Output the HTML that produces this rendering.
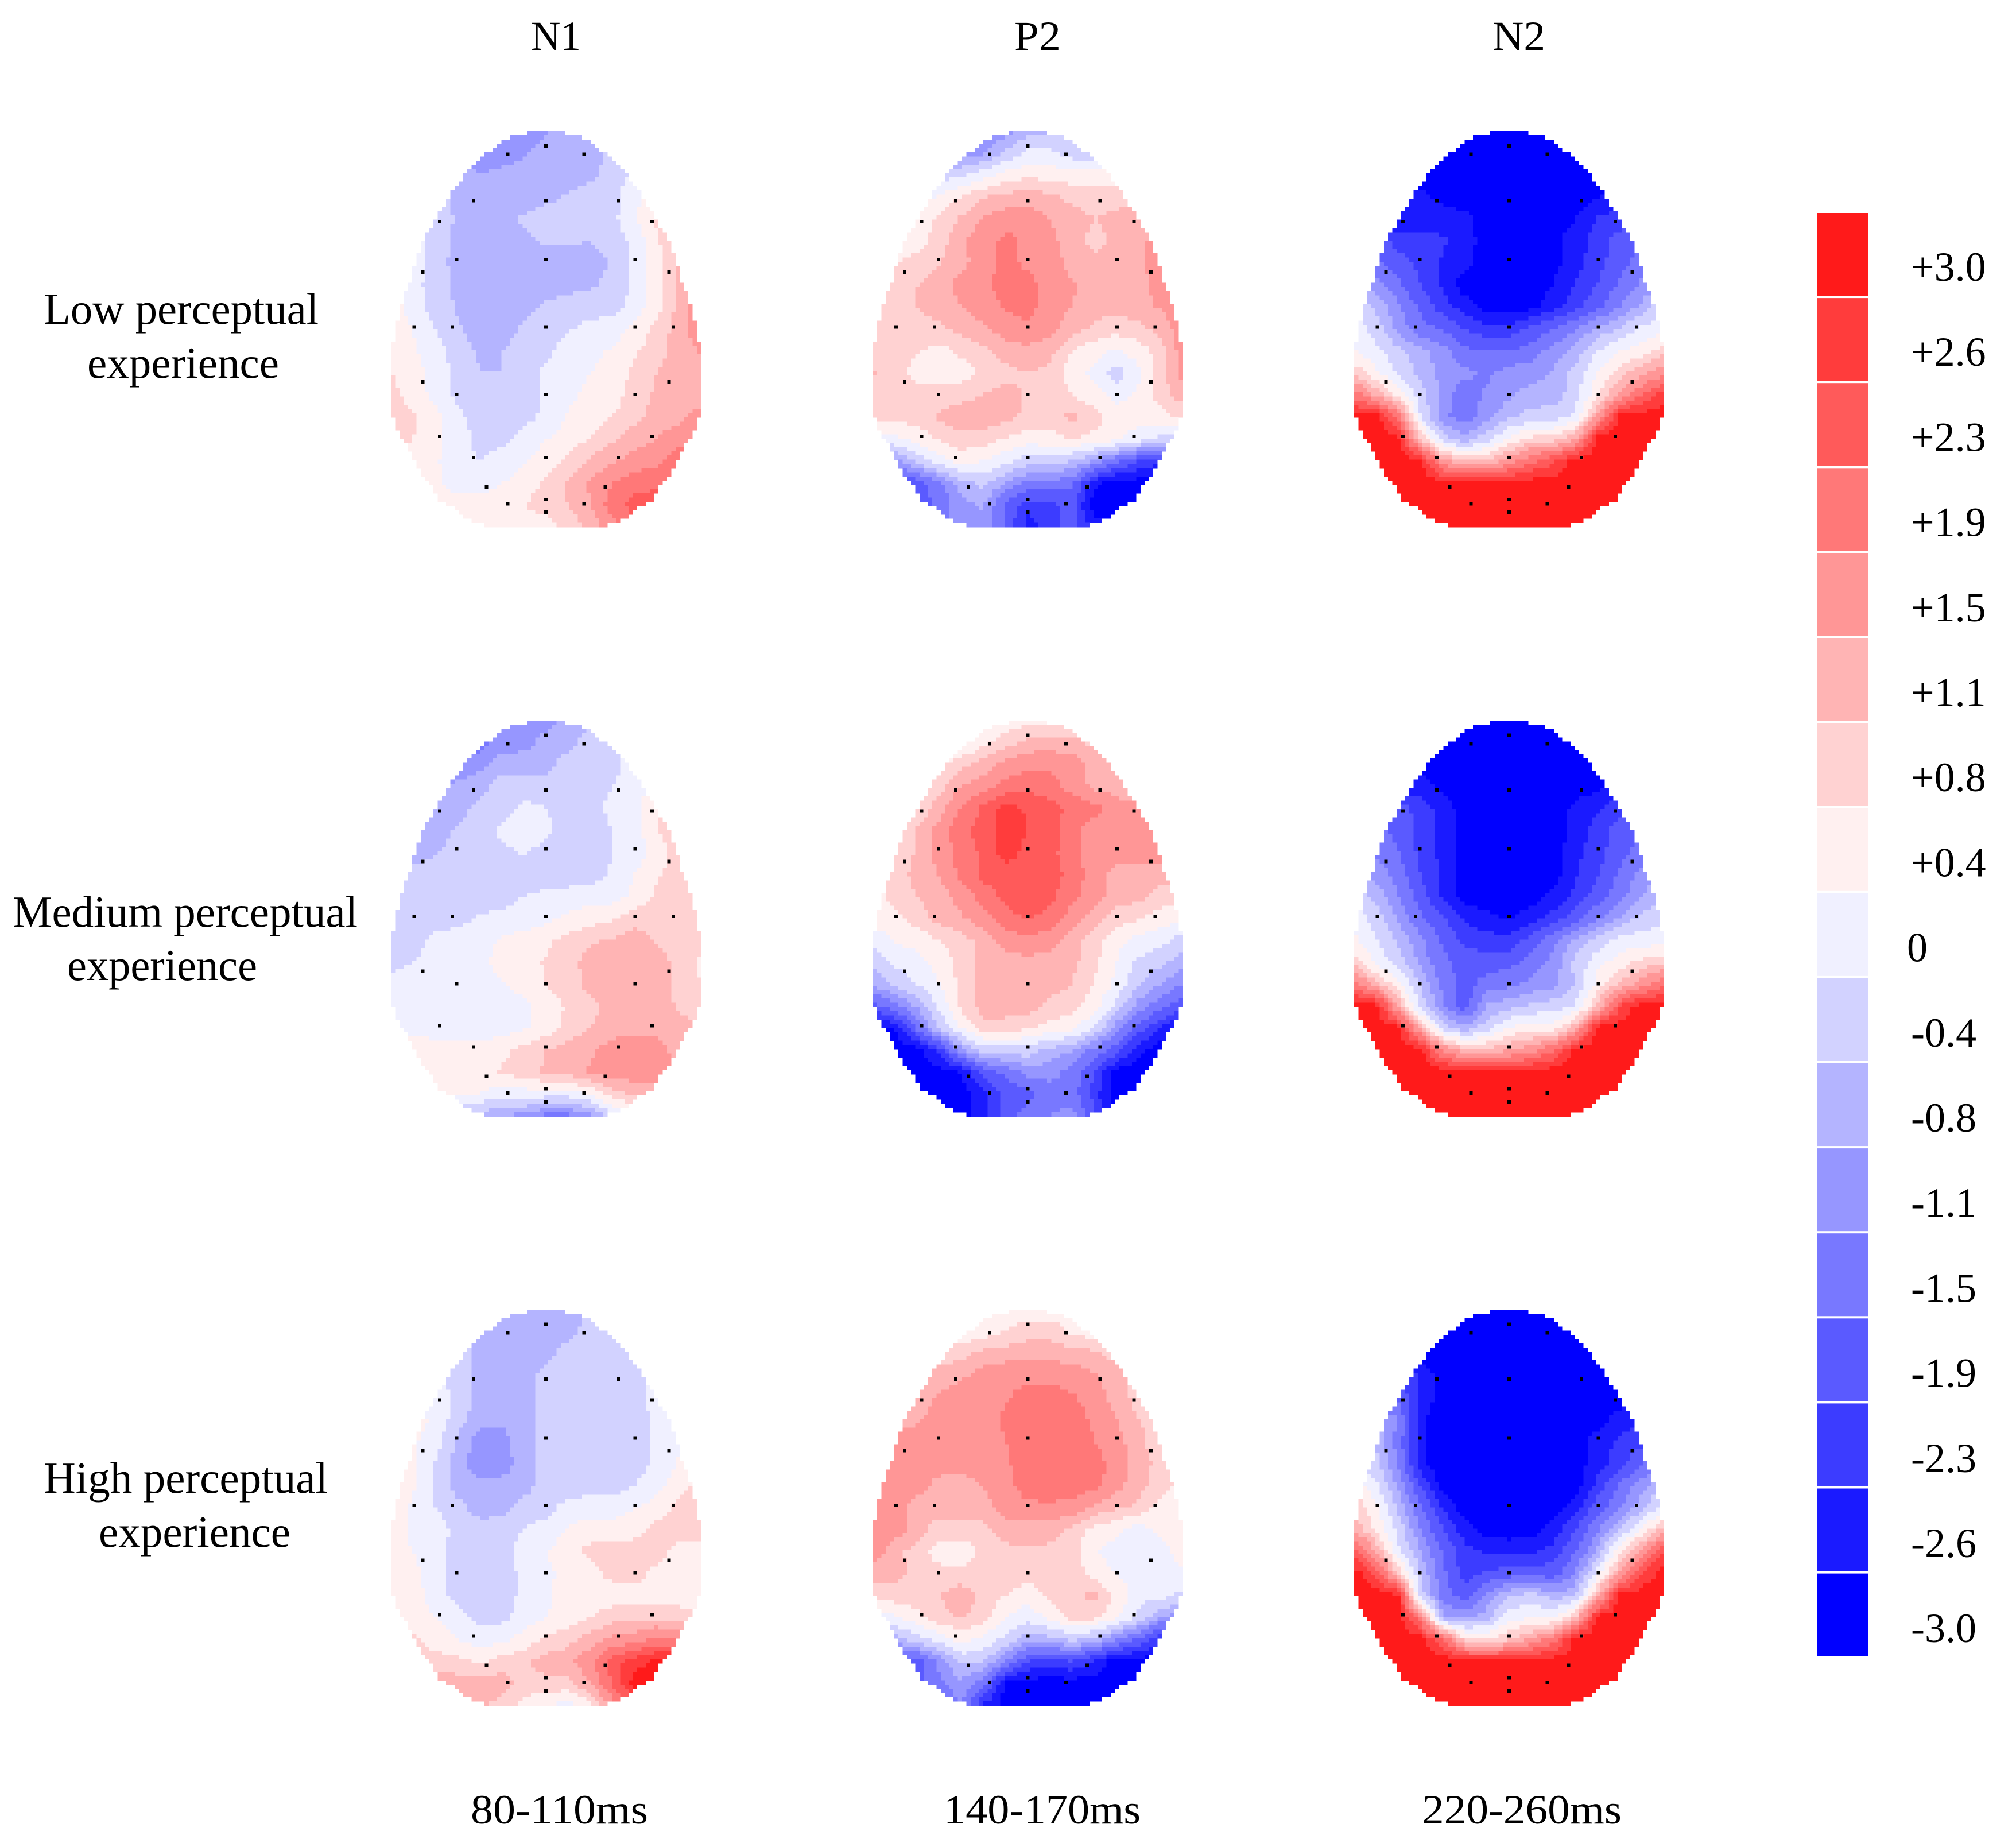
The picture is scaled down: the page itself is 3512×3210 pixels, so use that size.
<!DOCTYPE html>
<html lang="en">
<head>
<meta charset="utf-8">
<title>ERP topographic maps by perceptual experience</title>
<style>
html,body{margin:0;padding:0;background:#fff;}
svg{display:block;}
text{font-family:"Liberation Serif",serif;fill:#000;}
</style>
</head>
<body>
<svg id="chart" xmlns="http://www.w3.org/2000/svg" width="3512" height="3210" viewBox="0 0 3512 3210">
  <rect x="0" y="0" width="3512" height="3210" fill="#ffffff"/>
  <text x="925" y="87" font-size="72" textLength="87" lengthAdjust="spacingAndGlyphs">N1</text>
  <text x="1767" y="87" font-size="72" textLength="81" lengthAdjust="spacingAndGlyphs">P2</text>
  <text x="2600" y="87" font-size="72" textLength="92" lengthAdjust="spacingAndGlyphs">N2</text>
  <text x="76" y="564" font-size="77" textLength="479" lengthAdjust="spacingAndGlyphs">Low perceptual</text>
  <text x="152" y="658" font-size="77" textLength="334" lengthAdjust="spacingAndGlyphs">experience</text>
  <text x="22" y="1614" font-size="77" textLength="601" lengthAdjust="spacingAndGlyphs">Medium perceptual</text>
  <text x="117" y="1707" font-size="77" textLength="331" lengthAdjust="spacingAndGlyphs">experience</text>
  <text x="76" y="2600" font-size="77" textLength="495" lengthAdjust="spacingAndGlyphs">High perceptual</text>
  <text x="172" y="2694" font-size="77" textLength="334" lengthAdjust="spacingAndGlyphs">experience</text>
  <text x="820" y="3176" font-size="72" textLength="309" lengthAdjust="spacingAndGlyphs">80-110ms</text>
  <text x="1644" y="3176" font-size="72" textLength="343" lengthAdjust="spacingAndGlyphs">140-170ms</text>
  <text x="2477" y="3176" font-size="72" textLength="348" lengthAdjust="spacingAndGlyphs">220-260ms</text>
  <g id="maps"></g>
  <g id="colorbar"></g>
</svg>
<script>
// Colour scale, top to bottom
const bandLabels = ['+3.0','+2.6','+2.3','+1.9','+1.5','+1.1','+0.8','+0.4','0','-0.4','-0.8','-1.1','-1.5','-1.9','-2.3','-2.6','-3.0'];
const bandLevels = [3,2.6,2.3,1.9,1.5,1.1,0.8,0.4,0,-0.4,-0.8,-1.1,-1.5,-1.9,-2.3,-2.6,-3];
const bandColors = ['#ff1a1a','#ff3c3c','#ff5a5a','#ff7878','#ff9696','#ffb4b4','#ffd2d2','#fff0f0','#f0f0ff','#d2d2ff','#b4b4ff','#9696ff','#7878ff','#5a5aff','#3c3cff','#1a1aff','#0000ff'];

// Amplitude (µV): 19 rows front-to-back, 15 columns left-to-right
const mapN1Low = [
[-1.1,-1.1,-1.1,-1.1,-1.1,-1.1,-1.1,-1.0,-.8,-.7,-.6,-.5,-.4,-.4,-.4],
[-1.2,-1.2,-1.2,-1.2,-1.2,-1.1,-1.0,-.8,-.8,-.8,-.5,-.3,-.2,-.1,0],
[-.7,-.7,-.7,-.7,-.95,-.85,-.8,-.8,-.8,-.7,-.4,-.1,.2,.3,.4],
[-.4,-.4,-.4,-.7,-.8,-.8,-.8,-.7,-.55,-.4,-.35,.1,.4,.6,.8],
[-.2,-.2,-.4,-.65,-.8,-.75,-.55,-.4,-.4,-.4,-.3,.1,.7,.9,1],
[0,0,-.4,-.7,-.8,-.8,-.7,-.55,-.55,-.6,-.4,-.1,.5,1.1,1.2],
[.1,.05,-.4,-.75,-.8,-.8,-.8,-.8,-.8,-.8,-.55,-.1,.4,1.1,1.3],
[.2,-.05,-.4,-.7,-.8,-.8,-.8,-.75,-.75,-.65,-.5,-.1,.4,1.1,1.4],
[.5,-.05,-.35,-.65,-.8,-.8,-.7,-.55,-.4,-.4,-.35,-.05,.45,1.1,1.5],
[.5,.2,-.2,-.55,-.8,-.8,-.55,-.4,-.25,-.05,0,.3,.75,1.1,1.55],
[.4,.25,0,-.4,-.65,-.6,-.4,-.3,0,.1,.25,.55,.8,1.1,1.35],
[.6,.35,.05,-.3,-.6,-.6,-.4,-.1,0,.2,.35,.7,.95,1.1,1.2],
[.75,.4,.1,-.3,-.5,-.4,-.4,-.15,.1,.3,.4,.8,1.0,1.1,1.1],
[.8,.7,.3,-.1,-.4,-.4,-.35,-.1,.25,.35,.6,.85,1.1,1.2,1.45],
[.7,.6,.3,.05,-.35,-.3,-.05,.2,.35,.65,.9,1.15,1.3,1.55,1.7],
[.6,.5,.25,0,-.2,-.05,.15,.4,.7,1.0,1.25,1.45,1.6,1.95,2.0],
[.3,.3,.3,0,0,.2,.35,.7,1.0,1.35,1.7,1.95,2.0,2.2,2.2],
[.4,.4,.4,.4,.4,.4,.6,.8,.95,1.3,1.9,2.25,2.3,2.3,2.3],
[.4,.4,.4,.4,.4,.4,.4,.4,.7,1.1,1.5,2,2,2,2]];

const mapP2Low = [
[-1.5,-1.5,-1.5,-1.5,-1.5,-1.4,-1.1,-.8,-.8,-.6,-.5,-.5,-.5,-.5,-.5],
[-1.5,-1.5,-1.4,-1.3,-1.2,-1.0,-.5,-.1,-.1,-.4,-.4,-.4,-.4,-.4,-.4],
[-.8,-.8,-.7,-.5,-.25,.05,.35,.5,.45,.4,.35,.35,.4,.4,.4],
[-.3,-.2,-.1,.3,.65,.95,1.1,1.15,1.05,.85,.8,.8,.9,1,1],
[.1,.2,.35,.7,1.0,1.35,1.5,1.55,1.3,1.1,.95,1.05,1.15,1.3,1.4],
[.2,.3,.45,.75,1.25,1.5,1.85,1.6,1.4,1.1,.85,1.0,1.2,1.5,1.6],
[.5,.6,.75,.95,1.2,1.5,1.85,1.6,1.5,1.15,1.05,1.1,1.2,1.55,1.7],
[.7,.8,.95,1.1,1.45,1.6,1.9,1.85,1.5,1.35,1.1,1.1,1.15,1.5,1.7],
[.7,.75,.95,1.05,1.3,1.5,1.75,1.85,1.5,1.3,1.1,1.1,1.15,1.35,1.6],
[.7,.8,.85,.9,1.05,1.25,1.5,1.6,1.4,1.1,.85,.75,.85,1.05,1.5],
[.7,.7,.65,.45,.7,.85,1.1,1.2,1.05,.6,.35,.15,.4,.8,1.5],
[1.0,.8,.45,.35,.4,.7,.85,.95,.85,.4,.1,-.4,.1,.8,1.45],
[.8,.8,.8,.8,.85,.95,1.1,.9,.8,.6,.35,.05,.3,.8,1.1],
[.7,.7,.8,1.0,1.15,1.15,1.1,.85,.8,1.05,.8,.4,.4,.45,.7],
[-.1,.1,.35,.65,.85,.8,.55,.4,.45,.6,.45,.3,-.05,-.3,-.5],
[-1.6,-1.1,-.45,0,.35,.2,-.1,-.4,-.45,-.6,-1.0,-1.6,-2.1,-2.4,-2.6],
[-2.6,-2.4,-1.9,-1.4,-.75,-.5,-1.0,-1.4,-1.45,-1.6,-2.7,-3,-3,-3,-3],
[-2.4,-2.2,-2,-1.6,-1.05,-.9,-1.8,-2.3,-2.2,-2.0,-3,-3,-3,-3,-3],
[-2,-2,-1.8,-1.5,-1,-1.1,-1.8,-2.6,-2.3,-1.9,-2.6,-3,-3,-3,-3]];

const mapN2Low = [
[-3,-3,-3,-3,-3,-3,-3,-3,-3,-3,-3,-3,-3,-3,-3],
[-3,-3,-3,-3,-3,-3,-3,-3,-3,-3,-3,-3,-3,-3,-3],
[-3,-3,-3,-3,-3,-3,-3,-3,-3,-3,-3,-3,-3,-3,-3],
[-2.7,-2.7,-2.7,-2.7,-2.9,-3,-3,-3,-3,-3,-3,-2.8,-2.6,-2.5,-2.5],
[-2.7,-2.7,-2.7,-2.6,-2.6,-2.7,-3,-3,-3,-3,-2.8,-2.4,-2.3,-2.2,-2.2],
[-1.8,-1.8,-2.3,-2.3,-2.4,-2.6,-3,-3,-3,-2.9,-2.6,-2.3,-1.9,-1.8,-1.8],
[-1.6,-1.6,-1.9,-2.2,-2.5,-2.7,-3,-3,-3,-2.9,-2.6,-2.25,-1.85,-1.5,-1.4],
[-1.0,-1.1,-1.6,-2.1,-2.5,-3,-3,-3,-3,-2.8,-2.4,-2.1,-1.6,-1.2,-1.0],
[-.3,-.7,-1.2,-1.8,-2.3,-2.6,-3,-3,-2.9,-2.6,-2.25,-1.8,-1.3,-.85,-.3],
[0,-.35,-1.1,-1.5,-1.75,-2.1,-2.35,-2.3,-2.0,-1.7,-1.3,-.85,-.55,-.1,.1],
[.2,-.1,-.5,-.85,-1.15,-1.6,-1.7,-1.7,-1.5,-1.15,-.8,-.2,.2,.4,.8],
[.9,.3,-.3,-.7,-1.05,-1.2,-1.4,-1.1,-1.1,-.9,-.45,.25,.8,1.2,1.6],
[2.0,1.2,.5,-.4,-1.1,-1.55,-1.2,-1.0,-.8,-.8,-.35,.5,1.45,2.1,2.7],
[3,3,2.0,-.2,-1.2,-1.55,-1.1,-.7,-.45,-.4,-.1,1.4,3,3,3],
[3,3,2.9,1.0,-.4,-.8,-.35,.3,.75,.8,1.3,3,3,3,3],
[3,3,3,2.9,1.5,.9,1.0,1.5,2.0,2.4,3,3,3,3,3],
[3,3,3,3,3,3,3,3,3,3,3,3,3,3,3],
[3,3,3,3,3,3,3,3,3,3,3,3,3,3,3],
[3,3,3,3,3,3,3,3,3,3,3,3,3,3,3]];

const mapN1Medium = [
[-1.5,-1.5,-1.4,-1.4,-1.3,-1.3,-1.15,-1.05,-.85,-.7,-.5,-.4,-.3,-.2,-.1],
[-1.6,-1.6,-1.6,-1.5,-1.5,-1.1,-1.05,-.85,-.75,-.4,-.35,-.1,0,.1,.2],
[-1.4,-1.4,-1.3,-1.2,-1.05,-.8,-.8,-.75,-.4,-.4,-.35,0,.15,.3,.4],
[-1.2,-1.2,-1.1,-.85,-.75,-.4,-.4,-.4,-.35,-.35,-.2,0,.4,.5,.6],
[-1.1,-1,-.85,-.8,-.45,-.35,-.1,-.2,-.4,-.35,-.1,.05,.55,.7,.8],
[-1,-.9,-.8,-.55,-.4,-.1,0,-.1,-.35,-.4,-.2,0,.6,.9,1],
[-.9,-.8,-.65,-.4,-.4,-.3,-.15,-.35,-.4,-.4,-.2,0,.35,.8,.95],
[-.5,-.4,-.4,-.4,-.4,-.4,-.4,-.4,-.4,-.35,-.15,.2,.55,.8,.9],
[-.5,-.4,-.4,-.4,-.4,-.35,-.2,-.1,-.05,0,0,.3,.65,.8,.9],
[-.45,-.4,-.4,-.35,-.15,-.1,-.05,.1,.3,.45,.55,.8,.85,.85,.85],
[-.45,-.35,-.1,0,.05,.25,.4,.5,.75,.9,1.0,1.15,.9,.8,.8],
[-.35,-.2,-.05,0,.1,.35,.4,.65,.8,1.1,1.1,1.15,1.1,.85,.5],
[0,0,0,0,-.05,.15,.4,.6,.8,1.05,1.15,1.15,1.1,.85,.6],
[.05,0,0,0,0,0,.05,.4,.65,.85,1.1,1.15,1.15,.9,.8],
[.1,.1,.05,0,0,0,.15,.4,.7,.95,1.1,1.15,1.15,1.1,.95],
[.4,.4,.35,.35,.35,.5,.75,.95,1.1,1.25,1.5,1.6,1.5,1.1,1],
[.35,.35,.35,.4,.4,.65,.8,1.0,1.1,1.35,1.5,1.5,1.5,1.5,1.5],
[.3,.3,.3,.3,.2,-.05,0,0,0,.25,.8,1.0,1.1,1.1,1.1],
[-.5,-.5,-.6,-.7,-.8,-1.0,-1.1,-1.45,-1.5,-1.1,-.4,.2,.4,.4,.4]];

const mapP2Medium = [
[-.2,-.1,0,0,.1,.2,.35,.5,.5,.7,.8,.8,.8,.8,.8],
[-.2,-.1,0,0,.1,.5,.8,1.05,1.1,1.05,.85,.8,.8,.8,.8],
[.1,.2,.3,.5,.85,1.1,1.45,1.6,1.6,1.5,1.15,.85,.8,.8,.8],
[.3,.4,.5,.8,1.3,1.5,1.85,2.0,1.85,1.55,1.2,1.1,1.0,.9,.9],
[.4,.5,.6,1.15,1.75,2.2,2.6,2.4,2.3,1.95,1.85,1.5,1.4,1.4,1.4],
[.5,.6,1.0,1.45,2.0,2.25,2.65,2.45,2.3,1.8,1.5,1.5,1.5,1.6,1.6],
[.6,.7,1.0,1.4,1.85,2.2,2.6,2.35,2.25,1.8,1.5,1.45,1.5,1.5,1.5],
[.7,.8,1.05,1.35,1.8,2.2,2.3,2.35,2.3,1.95,1.5,1.15,1.1,1.1,1.1],
[.4,.75,.95,1.1,1.45,1.9,2.2,2.35,2.2,1.8,1.5,1.1,1.05,.8,.7],
[.3,.5,.8,1.05,1.25,1.5,1.95,2.15,1.95,1.5,1.1,.8,.65,.4,.3],
[-.05,.25,.35,.6,.8,1.1,1.45,1.6,1.45,1.1,.8,.35,.05,-.05,-.4],
[-.5,-.1,.05,.35,.75,1.05,1.1,1.15,1.1,1.05,.7,.2,-.3,-.5,-.8],
[-.9,-.5,-.2,.2,.7,1.1,1.15,1.15,1.1,.95,.55,.1,-.6,-.95,-1.3],
[-1.9,-1.4,-.9,-.1,.7,1.1,1.1,1.1,.85,.75,.4,-.35,-1.1,-1.55,-2.0],
[-3,-2.8,-1.6,-.6,.2,.85,.8,.65,.45,.3,-.25,-1.2,-1.9,-2.5,-3],
[-3,-3,-3,-2.3,-1.1,-.45,-.4,-.4,-.75,-.95,-1.45,-1.9,-2.7,-3,-3],
[-3,-3,-3,-3,-2.8,-1.9,-1.6,-1.15,-1.15,-1.45,-2.1,-3,-3,-3,-3],
[-3,-3,-3,-3,-3,-2.6,-2.0,-1.85,-1.5,-1.5,-2.3,-3,-3,-3,-3],
[-3,-3,-3,-3,-3,-2.6,-1.9,-1.5,-1.3,-1.1,-2,-3,-3,-3,-3]];

const mapN2Medium = [
[-3,-3,-3,-3,-3,-3,-3,-3,-3,-3,-3,-3,-3,-3,-3],
[-3,-3,-3,-3,-3,-3,-3,-3,-3,-3,-3,-3,-3,-3,-3],
[-3,-3,-3,-3,-3,-3,-3,-3,-3,-3,-3,-3,-3,-3,-3],
[-3,-3,-3,-2.6,-2.9,-3,-3,-3,-3,-3,-3,-2.9,-2.7,-2.7,-2.7],
[-2,-2,-1.9,-2.25,-2.6,-3,-3,-3,-3,-3,-2.7,-2.5,-2.2,-2.1,-2],
[-1.5,-1.5,-1.85,-2.25,-2.55,-3,-3,-3,-3,-3,-2.65,-2.3,-1.9,-1.8,-1.8],
[-1.4,-1.4,-1.7,-2.2,-2.55,-3,-3,-3,-3,-3,-2.55,-2.25,-1.85,-1.5,-1.5],
[-.9,-1.05,-1.45,-2.1,-2.55,-3,-3,-3,-3,-2.95,-2.5,-2.15,-1.6,-1.15,-.9],
[-.3,-.75,-1.3,-1.9,-2.5,-3,-3,-3,-3,-2.7,-2.35,-1.9,-1.45,-.95,-.6],
[.1,-.4,-1.0,-1.6,-2.05,-2.5,-2.7,-2.85,-2.55,-2.3,-1.9,-1.35,-.9,-.45,-.3],
[.3,-.15,-.7,-1.2,-1.75,-2.2,-2.3,-2.3,-1.95,-1.4,-.85,-.45,-.05,0,0],
[.8,.1,-.35,-1.05,-1.6,-1.9,-1.9,-1.85,-1.5,-1.15,-.5,.1,.4,.75,.9],
[1.95,1.1,.35,-.6,-1.4,-1.9,-1.5,-1.4,-1.2,-1.1,-.55,.35,1.05,1.5,2.0],
[3,3,1.2,-.35,-1.25,-1.9,-.9,-.75,-.5,-.4,-.15,1.0,2.5,3,3],
[3,3,3,1.2,-.35,-.8,-.35,.3,.4,.4,1.2,3,3,3,3],
[3,3,3,3,1.7,1.1,1.1,1.3,1.55,2.1,3,3,3,3,3],
[3,3,3,3,3,3,3,3,3,3,3,3,3,3,3],
[3,3,3,3,3,3,3,3,3,3,3,3,3,3,3],
[3,3,3,3,3,3,3,3,3,3,3,3,3,3,3]];

const mapN1High = [
[-.6,-.6,-.6,-.7,-.7,-.75,-.8,-.8,-.8,-.6,-.4,-.3,-.2,-.1,0],
[-.4,-.5,-.5,-.6,-.7,-.8,-.8,-.8,-.75,-.4,-.4,-.2,-.1,0,.1],
[0,-.1,-.2,-.3,-.75,-.8,-.8,-.75,-.4,-.4,-.4,-.2,-.1,0,.1],
[.1,.05,0,-.4,-.7,-.8,-.8,-.45,-.4,-.4,-.4,-.35,0,.1,.1],
[.2,.15,.05,-.35,-.7,-.8,-.75,-.4,-.4,-.4,-.4,-.35,-.05,.1,.2],
[.4,.4,.1,-.4,-.85,-.9,-.75,-.4,-.4,-.4,-.4,-.4,-.1,0,.1],
[.4,.25,0,-.7,-1.1,-1.05,-.8,-.4,-.4,-.4,-.4,-.4,-.1,.1,.2],
[.4,.3,-.2,-.8,-1.15,-1.1,-.8,-.4,-.4,-.4,-.4,-.4,-.1,.25,.4],
[.45,.25,-.3,-.8,-.85,-.85,-.8,-.4,-.4,-.4,-.4,-.2,.05,.4,.8],
[.4,.15,-.2,-.45,-.8,-.75,-.4,-.35,-.05,0,0,.2,.35,.75,.9],
[.4,.1,.05,-.35,-.4,-.4,-.2,-.05,.25,.4,.4,.4,.75,.8,.85],
[.4,.2,0,-.4,-.4,-.35,-.05,.2,.4,.75,.85,.85,.85,.4,.4],
[.4,.3,0,-.4,-.4,-.4,-.1,.1,.35,.4,.75,.8,.45,.4,.4],
[.4,.35,.05,-.4,-.4,-.4,-.1,.1,.4,.4,.4,.4,.4,.4,.4],
[.8,.4,.2,0,-.35,-.3,-.05,.2,.4,.6,.8,.8,.85,.8,.7],
[.9,.7,.4,.2,0,.1,.35,.7,.85,1.1,1.4,1.5,1.85,1.6,1.6],
[.8,.8,.8,.75,.5,.8,.9,1.1,1.15,1.6,2.3,2.65,2.9,3,3],
[1.1,1.1,1.1,1.1,1.1,1.1,.8,.85,.85,1.3,2.15,3,3,3,3],
[1,1,1,1,1,.85,.5,.25,0,.45,1.5,2,2,2,2]];

const mapP2High = [
[.4,.4,.4,.4,.4,.4,.4,.4,.4,.4,.4,.4,.4,.4,.4],
[.3,.3,.3,.3,.3,.4,.6,.8,.8,.55,.4,.4,.4,.4,.4],
[.7,.7,.7,.75,.8,1.1,1.15,1.2,1.2,1.1,1.05,.8,.7,.7,.7],
[1,1,1,1.1,1.25,1.45,1.55,1.55,1.55,1.5,1.35,1.1,.8,.7,.7],
[1.1,1.1,1.1,1.35,1.5,1.5,1.65,1.9,1.9,1.75,1.5,1.15,.8,.7,.7],
[1.1,1.1,1.25,1.45,1.5,1.5,1.8,1.9,1.95,1.95,1.6,1.3,.95,.8,.7],
[1.4,1.45,1.5,1.5,1.5,1.5,1.7,1.9,1.95,1.95,1.7,1.45,1.05,.7,.5],
[1.5,1.5,1.5,1.5,1.5,1.5,1.65,1.9,2.0,2.0,1.9,1.5,1.15,.8,.5],
[1.5,1.5,1.5,1.15,1.1,1.35,1.55,1.9,2.0,1.95,1.85,1.45,1.05,.8,.45],
[1.5,1.5,1.1,1.1,1.1,1.1,1.5,1.6,1.6,1.55,1.2,1.0,.9,.4,.35],
[1.55,1.5,1.1,.8,.85,.85,1.1,1.15,1.1,.85,.45,.35,0,.35,.4],
[1.55,1.05,.8,.4,.3,.75,.85,.9,.85,.8,.25,-.05,-.05,0,.4],
[1.1,1.1,.8,.75,.75,.8,.8,.8,.8,.8,.45,.2,0,0,.15],
[.8,.8,.8,.95,1.15,.85,.6,.35,.7,.85,1.05,.5,-.05,-.05,-.3],
[-.1,.15,.5,.85,1.0,.75,.2,-.05,.3,.8,.7,.3,-.3,-.95,-1.2],
[-1.2,-.8,-.4,-.05,.35,.1,-.35,-.8,-.75,-.5,-.75,-1.3,-1.8,-2.4,-2.8],
[-2.2,-2.1,-1.9,-1.2,-.5,-.55,-1.3,-2.1,-2.3,-2.1,-2.5,-3,-3,-3,-3],
[-2,-2,-1.8,-1.4,-1.05,-1.6,-2.9,-3,-3,-3,-3,-3,-3,-3,-3],
[-2.5,-2.5,-2.2,-1.8,-1.3,-2.5,-3,-3,-3,-3,-3,-3,-3,-3,-3]];

const mapN2High = [
[-3,-3,-3,-3,-3,-3,-3,-3,-3,-3,-3,-3,-3,-3,-3],
[-3,-3,-3,-3,-3,-3,-3,-3,-3,-3,-3,-3,-3,-3,-3],
[-3,-3,-3,-3,-3,-3,-3,-3,-3,-3,-3,-3,-3,-3,-3],
[-2,-2,-2,-2.5,-3,-3,-3,-3,-3,-3,-3,-3,-3,-3,-3],
[-1.4,-1.5,-1.8,-2.5,-3,-3,-3,-3,-3,-3,-3,-3,-3,-3,-3],
[-.8,-.9,-1.3,-2.75,-3,-3,-3,-3,-3,-3,-3,-3,-2.6,-2.5,-2.4],
[-.4,-.6,-1.5,-2.7,-3,-3,-3,-3,-3,-3,-3,-2.6,-2.4,-2.2,-2.1],
[-.2,-.5,-1.35,-2.7,-3,-3,-3,-3,-3,-3,-3,-2.6,-2.25,-1.7,-1.4],
[.5,-.1,-1.05,-2.1,-3,-3,-3,-3,-3,-3,-3,-2.35,-1.65,-1.1,-.6],
[.9,.3,-.7,-1.6,-2.5,-3,-3,-3,-3,-3,-2.6,-1.9,-1.35,-.75,.1],
[1.2,.5,-.35,-1.3,-2.1,-2.65,-3,-3,-3,-2.65,-2.1,-1.35,-.6,.3,1.15],
[2.4,1.3,-.1,-.95,-1.7,-2.3,-2.5,-2.55,-2.5,-2.3,-1.7,-.9,.6,1.5,2.5],
[3,2.4,.9,-.6,-1.6,-2.3,-2.05,-1.9,-1.9,-1.9,-1.25,0,1.35,2.5,3],
[3,3,2.9,-.4,-1.5,-1.9,-1.2,-.65,-.4,-.8,-.65,1.1,3,3,3],
[3,3,3,1.9,-.85,-1.05,-.75,.05,.15,.15,1.0,3,3,3,3],
[3,3,3,3,2.2,.75,.55,.9,1.4,1.9,3,3,3,3,3],
[3,3,3,3,3,3,3,3,3,3,3,3,3,3,3],
[3,3,3,3,3,3,3,3,3,3,3,3,3,3,3],
[3,3,3,3,3,3,3,3,3,3,3,3,3,3,3]];

const conditions = ['low','medium','high'];
const components = ['n1','p2','n2'];
const allMaps = [
  [mapN1Low, mapP2Low, mapN2Low],
  [mapN1Medium, mapP2Medium, mapN2Medium],
  [mapN1High, mapP2High, mapN2High]
];

// Layout
const SVG_NS = 'http://www.w3.org/2000/svg';
const COLS = 73, ROWS = 94, CELL_W = 7.4, CELL_H = 7.335;
const columnLeft = [681, 1520.6, 2359];
const rowTop = [228.4, 1255, 2281];

// Head outline: [fraction of height, half width fraction]
const outline = [[0,.124],[.011,.234],[.021,.288],[.032,.316],[.043,.343],[.053,.398],[.064,.426],[.075,.453],[.087,.481],[.097,.508],[.109,.536],[.13,.563],[.14,.591],[.152,.618],[.172,.646],[.193,.673],[.204,.70],[.225,.728],[.247,.755],[.259,.783],[.28,.81],[.312,.838],[.344,.865],[.387,.893],[.408,.92],[.44,.948],[.483,.975],[.537,1],[.72,.975],[.752,.948],[.773,.92],[.784,.893],[.805,.865],[.827,.838],[.848,.81],[.87,.783],[.88,.755],[.893,.728],[.913,.70],[.933,.646],[.944,.591],[.955,.563],[.965,.536],[.976,.481],[.987,.398],[.997,.26]];

// Electrode sites in grid cells
const electrodes = [[36,3],[27,5],[45,5],[19,16],[36,16],[53,16],[11,21],[61,21],[15,30],[36,30],[57,30],[7,33],[65,33],[5,46],[14,46],[36,46],[57,46],[66,46],[7,59],[65,59],[15,62],[36,62],[57,62],[11,72],[61,72],[19,77],[36,77],[53,77],[22,84],[50,84],[27,88],[45,88],[36,87],[36,90]];

function halfWidth(t) {
  let h = outline[0][1];
  for (const p of outline) { if (p[0] <= t) h = p[1]; else break; }
  return h * COLS / 2;
}
function sampleGrid(grid, u, v) {
  const nr = grid.length - 1, nc = grid[0].length - 1;
  const fy = Math.min(v * nr, nr - 1e-6), fx = Math.min(u * nc, nc - 1e-6);
  const j = Math.floor(fy), i = Math.floor(fx), a = fy - j, b = fx - i;
  return (grid[j][i] * (1 - b) + grid[j][i + 1] * b) * (1 - a) +
         (grid[j + 1][i] * (1 - b) + grid[j + 1][i + 1] * b) * a;
}
function bandIndex(value) {
  let best = 0, bestD = Infinity;
  bandLevels.forEach(function (lvl, k) {
    const d = Math.abs(lvl - value);
    if (d < bestD) { bestD = d; best = k; }
  });
  return best;
}
function xCell(left, c) { return left + c * CELL_W; }
function yCell(top, r) { return top + r * CELL_H; }

const mapsRoot = document.getElementById('maps');
allMaps.forEach(function (rowMaps, ri) {
  rowMaps.forEach(function (grid, ci) {
    const left = columnLeft[ci], top = rowTop[ri];
    const g = document.createElementNS(SVG_NS, 'g');
    
    
    g.setAttribute('shape-rendering', 'crispEdges');
    for (let r = 0; r < ROWS; r++) {
      const v = (r + 0.5) / ROWS;
      const hw = halfWidth(v);
      let runStart = -1, runBand = -1;
      for (let c = 0; c <= COLS; c++) {
        let band = -1;
        if (c < COLS && Math.abs(c + 0.5 - COLS / 2) <= hw) {
          band = bandIndex(sampleGrid(grid, (c + 0.5) / COLS, v));
        }
        if (band !== runBand) {
          if (runBand >= 0) {
            const cell = document.createElementNS(SVG_NS, 'rect');
            
            
            cell.setAttribute('x', xCell(left, runStart).toFixed(2));
            cell.setAttribute('y', yCell(top, r).toFixed(2));
            cell.setAttribute('width', ((c - runStart) * CELL_W).toFixed(2));
            cell.setAttribute('height', CELL_H + 0.4);
            cell.setAttribute('fill', bandColors[runBand]);
            g.appendChild(cell);
          }
          runStart = c;
          runBand = band;
        }
      }
    }
    electrodes.forEach(function (e) {
      const dot = document.createElementNS(SVG_NS, 'rect');
      
      
      dot.setAttribute('x', (xCell(left, e[0]) + 0.6).toFixed(2));
      dot.setAttribute('y', (yCell(top, e[1]) + 0.6).toFixed(2));
      dot.setAttribute('width', 6);
      dot.setAttribute('height', 6);
      dot.setAttribute('fill', '#000000');
      g.appendChild(dot);
    });
    mapsRoot.appendChild(g);
  });
});

// Colour bar
const BAR_LEFT = 3166, BAR_WIDTH = 89, BAR_TOP = 371, BAR_STEP = 148.1, BAR_GAP = 4;
const barRoot = document.getElementById('colorbar');
bandLabels.forEach(function (label, k) {
  const swatch = document.createElementNS(SVG_NS, 'rect');
  
  
  swatch.setAttribute('x', BAR_LEFT);
  swatch.setAttribute('y', (BAR_TOP + k * BAR_STEP).toFixed(1));
  swatch.setAttribute('width', BAR_WIDTH);
  swatch.setAttribute('height', (BAR_STEP - BAR_GAP).toFixed(1));
  swatch.setAttribute('fill', bandColors[k]);
  barRoot.appendChild(swatch);
  const tick = document.createElementNS(SVG_NS, 'text');
  
  
  tick.setAttribute('x', label === '0' ? 3322 : 3329);
  tick.setAttribute('y', (489 + k * 148.2).toFixed(1));
  tick.setAttribute('font-size', '72');
  tick.textContent = label;
  barRoot.appendChild(tick);
});
</script>
</body>
</html>
